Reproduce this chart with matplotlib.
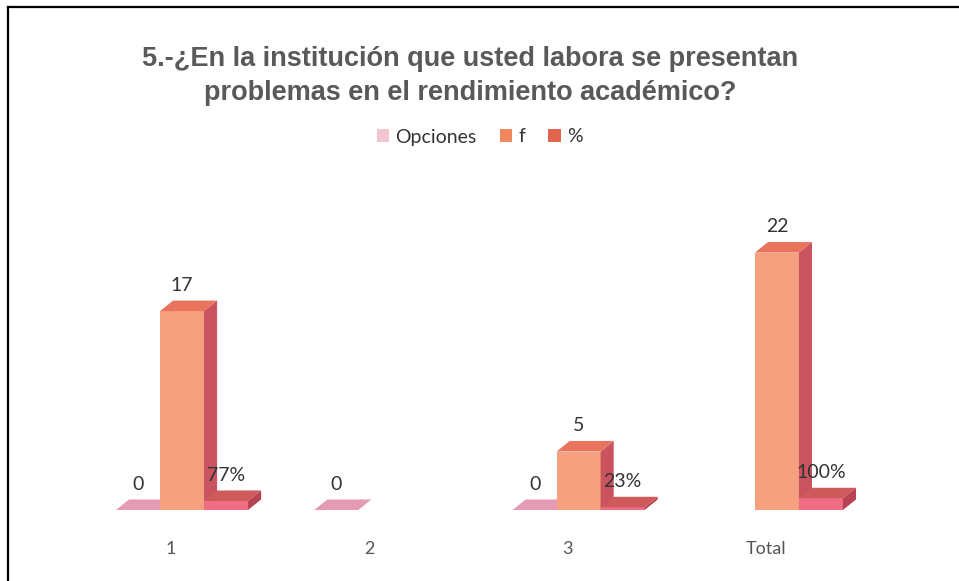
import numpy as np
import matplotlib.pyplot as plt
from matplotlib.patches import Polygon, Rectangle

# data
categories = ['1', '2', '3', 'Total']
opciones = [0, 0, 0, np.nan]
f_vals = [17, np.nan, 5, 22]
pct_vals = [0.77, np.nan, 0.23, 1.00]
series_names = ['Opciones', 'f', '%']

title = '5.-¿En la institución que usted labora se presentan\nproblemas en el rendimiento académico?'

# colours: front, top, side
colors = {
    'Opciones': ('#f0a6bd', '#e59ab5', '#d88aa6'),
    'f': ('#f5a07e', '#e9735c', '#c9535f'),
    '%': ('#f06d86', '#cf5a5c', '#b8424f'),
}
legend_colors = ['#f2c6d1', '#f0875e', '#e2664e']

W = 0.222      # bar width (category units)
DX = 0.066     # depth offset x
DY = 0.9       # depth offset y (value units)
OFFS = [-W, 0.0, W]

plt.rcParams['font.family'] = ['Lato', 'DejaVu Sans']

fig = plt.figure(figsize=(9.59, 5.81), dpi=100)
fig.patch.set_facecolor('white')

ax = fig.add_axes([82.85 / 959, 71 / 581, 793.2 / 959, 292.5 / 581])
ax.set_xlim(-0.5, 3.5)
ax.set_ylim(0, 25)
ax.axis('off')


def bar3d(ax, x0, h, cols):
    front, top, side = cols
    if h > 0:
        ax.add_patch(Rectangle((x0, 0), W, h, facecolor=front, edgecolor='none'))
        ax.add_patch(Polygon([(x0 + W, 0), (x0 + W + DX, DY), (x0 + W + DX, h + DY), (x0 + W, h)],
                             closed=True, facecolor=side, edgecolor='none'))
    ax.add_patch(Polygon([(x0, h), (x0 + W, h), (x0 + W + DX, h + DY), (x0 + DX, h + DY)],
                         closed=True, facecolor=top, edgecolor='none'))


all_series = [opciones, f_vals, pct_vals]
for i in range(len(categories)):
    for s, (name, vals) in enumerate(zip(series_names, all_series)):
        v = vals[i]
        if np.isnan(v):
            continue
        x0 = i + OFFS[s] - W / 2
        bar3d(ax, x0, v, colors[name])
        lab = f'{v:.0%}' if name == '%' else f'{v:g}'
        ax.annotate(lab, (i + OFFS[s], v + DY), xytext=(0, 5), textcoords='offset points',
                    ha='center', va='bottom', fontsize=14, color='#333333')

for i, c in enumerate(categories):
    ax.annotate(c, (i - 0.055, 0), xytext=(0, -28), textcoords='offset points',
                ha='center', va='center', fontsize=13, color='#555555')

fig.text(0.49, 1 - 76 / 581, title, ha='center', va='center', fontsize=19.5, fontweight='bold',
         color='#595959', family=['Liberation Sans', 'DejaVu Sans'], linespacing=1.35)

handles = [Rectangle((0, 0), 1, 1, facecolor=c, edgecolor='none') for c in legend_colors]
fig.legend(handles, series_names, loc='center', bbox_to_anchor=(0.5, 1 - 137 / 581), ncol=3,
           frameon=False, fontsize=14, handlelength=0.65, handleheight=0.65,
           handletextpad=0.3, columnspacing=1.2, labelcolor='#333333')

# chart frame (left and top edges visible)
fig.add_artist(plt.Line2D([8 / 959, 8 / 959], [0, 1 - 7 / 581], color='black', lw=1.6))
fig.add_artist(plt.Line2D([8 / 959, 1], [1 - 7 / 581, 1 - 7 / 581], color='black', lw=1.6))

fig.savefig('out.png', dpi=100, facecolor='white')
